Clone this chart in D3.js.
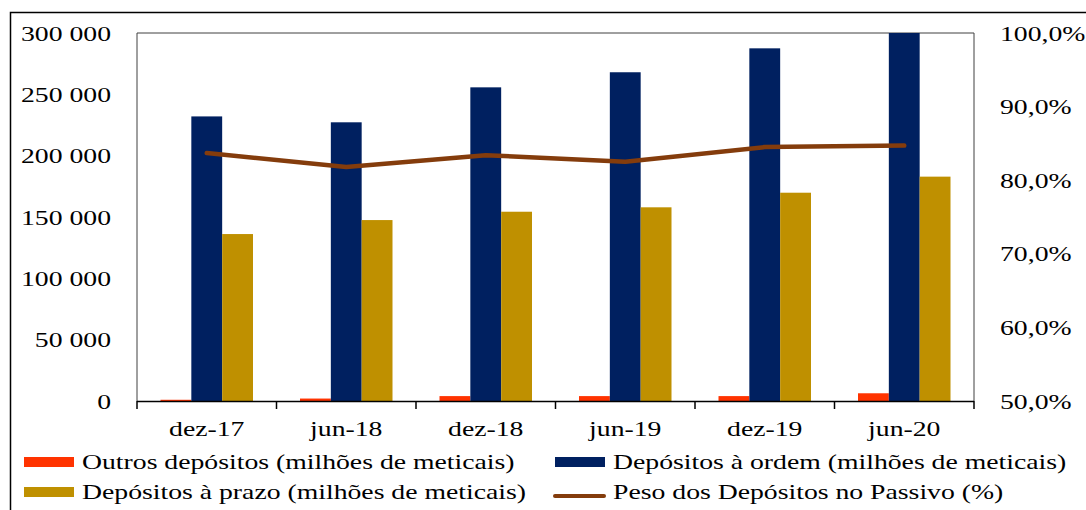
<!DOCTYPE html>
<html>
<head>
<meta charset="utf-8">
<script src="https://cdn.jsdelivr.net/npm/d3@7"></script>
<style>
  body { margin: 0; background: #fff; }
  svg { display: block; }
  text { font-family: "Liberation Serif", "Times New Roman", serif; fill: #000; }
</style>
</head>
<body>
<svg width="1086" height="510"></svg>
<script>
var categories = ["dez-17", "jun-18", "dez-18", "jun-19", "dez-19", "jun-20"];
var outros = [1000, 2000, 4000, 4000, 4000, 6300];
var ordem = [232000, 227200, 255700, 268000, 287500, 300000];
var prazo = [136100, 147500, 154300, 157900, 169800, 182900];
var peso = [0.837, 0.818, 0.834, 0.825, 0.845, 0.847];
var leftTicks = [0, 50000, 100000, 150000, 200000, 250000, 300000];
var rightTicks = [0.5, 0.6, 0.7, 0.8, 0.9, 1.0];

var seriesNames = ["outros", "ordem", "prazo"];
var colors = { outros: "#ff3300", ordem: "#002060", prazo: "#bf9000", peso: "#843c0c" };

var svg = d3.select("svg"),
  width = +svg.attr("width"),
  height = +svg.attr("height");

// the source picture is stretched sideways, so text is too
var stretch = 1.26, fontSize = 22;

var locale = d3.formatLocale({ decimal: ",", thousands: " ", grouping: [3], currency: ["", ""] });
var fmtNum = locale.format(",.0f"),
  fmtPct = locale.format(".1%");

var plot = { left: 137, right: 974, top: 33, bottom: 401 };

var x0 = d3.scaleBand().domain(categories).range([plot.left, plot.right]).padding(0);
var x1 = d3.scaleBand().domain(seriesNames).range([23.5, x0.bandwidth() - 23.5]).padding(0);
var y = d3.scaleLinear().domain([0, 300000]).range([plot.bottom, plot.top]);
var yR = d3.scaleLinear().domain([0.5, 1.0]).range([plot.bottom, plot.top]);

// outer frame (left and top edges only visible)
svg.append("path")
  .attr("d", "M10.5," + height + "V12.5H" + width)
  .attr("fill", "none")
  .attr("stroke", "#000")
  .attr("stroke-width", 1.5);

// plot frame
svg.append("path")
  .attr("d", "M" + plot.left + "," + plot.bottom + "V" + plot.top + "H" + plot.right + "V" + plot.bottom)
  .attr("fill", "none")
  .attr("stroke", "#404040")
  .attr("stroke-width", 1);

// bars
var rows = categories.map(function(c, i) {
  return { cat: c, outros: outros[i], ordem: ordem[i], prazo: prazo[i] };
});

svg.append("g")
  .selectAll("g")
  .data(rows)
  .enter().append("g")
  .attr("transform", function(d) { return "translate(" + x0(d.cat) + ",0)"; })
  .selectAll("rect")
  .data(function(d) { return seriesNames.map(function(k) { return { key: k, value: d[k] }; }); })
  .enter().append("rect")
  .attr("x", function(d) { return x1(d.key); })
  .attr("width", x1.bandwidth())
  .attr("y", function(d) { return y(d.value); })
  .attr("height", function(d) { return y(0) - y(d.value); })
  .style("fill", function(d) { return colors[d.key]; });

// line on right axis
var line = d3.line()
  .x(function(d, i) { return x0(categories[i]) + x0.bandwidth() / 2; })
  .y(function(d) { return yR(d); });

svg.append("path")
  .datum(peso)
  .attr("d", line)
  .attr("fill", "none")
  .attr("stroke", colors.peso)
  .attr("stroke-width", 4.5)
  .attr("stroke-linejoin", "round")
  .attr("stroke-linecap", "round");

// left axis
var gLeft = svg.append("g")
  .attr("transform", "translate(" + plot.left + ",0)")
  .call(d3.axisLeft(y).tickValues(leftTicks).tickFormat(fmtNum).tickSize(0).tickPadding(0));
gLeft.select(".domain").remove();
gLeft.selectAll("text")
  .attr("x", 0)
  .attr("transform", "translate(-26,0) scale(" + stretch + ",1)")
  .style("font-size", fontSize + "px")
  .style("font-family", "Liberation Serif")
  .attr("fill", "#000");

// right axis
var gRight = svg.append("g")
  .attr("transform", "translate(" + plot.right + ",0)")
  .call(d3.axisRight(yR).tickValues(rightTicks).tickFormat(fmtPct).tickSize(0).tickPadding(0));
gRight.select(".domain").remove();
gRight.selectAll("text")
  .attr("x", 0)
  .attr("transform", "translate(26,0) scale(" + stretch + ",1)")
  .style("font-size", fontSize + "px")
  .style("font-family", "Liberation Serif")
  .attr("fill", "#000");

// bottom axis
var gBottom = svg.append("g")
  .attr("transform", "translate(0," + plot.bottom + ")")
  .call(d3.axisBottom(x0).tickSize(0).tickPadding(0));
gBottom.select(".domain")
  .attr("d", "M" + plot.left + ",0.5H" + plot.right)
  .attr("stroke", "#000")
  .attr("stroke-width", 1.5);
gBottom.selectAll("text")
  .attr("y", 0)
  .attr("dy", null)
  .attr("transform", "translate(0,35) scale(" + stretch + ",1)")
  .style("font-size", fontSize + "px")
  .style("font-family", "Liberation Serif")
  .attr("fill", "#000");

var bounds = categories.map(function(c) { return x0(c); }).concat([x0.range()[1]]);
gBottom.selectAll(".bound")
  .data(bounds)
  .enter().append("line")
  .attr("class", "bound")
  .attr("x1", function(d) { return d; })
  .attr("x2", function(d) { return d; })
  .attr("y1", 0)
  .attr("y2", 8)
  .attr("stroke", "#000")
  .attr("stroke-width", 1.5);

// legend
var legendItems = [
  { label: "Outros depósitos (milhões de meticais)", key: "outros", type: "bar", x: 24, y: 469 },
  { label: "Depósitos à ordem (milhões de meticais)", key: "ordem", type: "bar", x: 555, y: 469 },
  { label: "Depósitos à prazo (milhões de meticais)", key: "prazo", type: "bar", x: 24, y: 499 },
  { label: "Peso dos Depósitos no Passivo (%)", key: "peso", type: "line", x: 555, y: 499 }
];

var legend = svg.append("g")
  .selectAll("g")
  .data(legendItems)
  .enter().append("g")
  .attr("transform", function(d) { return "translate(" + d.x + "," + d.y + ")"; });

legend.filter(function(d) { return d.type === "bar"; })
  .append("rect")
  .attr("x", 0)
  .attr("y", -12)
  .attr("width", 50)
  .attr("height", 10)
  .style("fill", function(d) { return colors[d.key]; });

legend.filter(function(d) { return d.type === "line"; })
  .append("line")
  .attr("x1", 0)
  .attr("x2", 49)
  .attr("y1", -3)
  .attr("y2", -3)
  .attr("stroke", function(d) { return colors[d.key]; })
  .attr("stroke-width", 4)
  .attr("stroke-linecap", "round");

legend.append("text")
  .attr("transform", "translate(58,0) scale(" + stretch + ",1)")
  .style("font-size", fontSize + "px")
  .text(function(d) { return d.label; });
</script>
</body>
</html>
